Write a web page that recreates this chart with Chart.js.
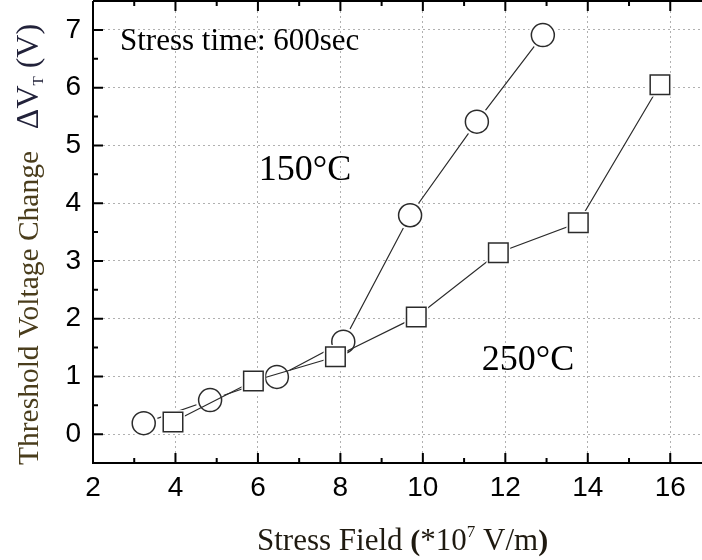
<!DOCTYPE html>
<html>
<head>
<meta charset="utf-8">
<script src="https://cdn.jsdelivr.net/npm/chart.js@4.4.1/dist/chart.umd.min.js"></script>
<style>
  html, body { margin: 0; padding: 0; background: #fff; overflow: hidden; }
</style>
</head>
<body>
<canvas id="chart" width="702" height="560"></canvas>
<script>
// values
const field150 = [3.23, 4.84, 6.46, 8.07, 9.69, 11.31, 12.91];
const shift150 = [0.19, 0.59, 0.99, 1.60, 3.79, 5.41, 6.91];
const field250 = [3.94, 5.89, 7.88, 9.84, 11.83, 13.77, 15.75];
const shift250 = [0.21, 0.92, 1.34, 2.03, 3.14, 3.66, 6.05];

const xTicks = [2, 4, 6, 8, 10, 12, 14, 16];
const yTicks = [0, 1, 2, 3, 4, 5, 6, 7];

const noteText = 'Stress time: 600sec';
const label150 = '150°C';
const label250 = '250°C';

const SERIF = "'Liberation Serif', 'Times New Roman', serif";
const SANS = "'Liberation Sans', Arial, sans-serif";
const INK = '#2b2b2b';

const toPoints = (xs, ys) => xs.map((x, i) => ({ x, y: ys[i] }));

function drawRuns(ctx, runs, x, y) {
  let cx = x;
  runs.forEach((r) => {
    ctx.font = r.font;
    ctx.fillStyle = r.color;
    ctx.fillText(r.text, cx, y + (r.dy || 0));
    cx += ctx.measureText(r.text).width;
  });
}

// inward ticks and axis lines, like the original plot
const frame = {
  id: 'frame',
  afterDraw(chart) {
    const { ctx, chartArea: { left, top, right, bottom }, scales: { x, y } } = chart;
    ctx.save();
    ctx.strokeStyle = '#000';
    ctx.lineWidth = 2;
    ctx.beginPath();
    ctx.moveTo(left, top);
    ctx.lineTo(left, bottom);
    ctx.lineTo(right, bottom);
    ctx.moveTo(left, top);
    ctx.lineTo(right, top);
    ctx.stroke();

    ctx.beginPath();
    for (let v = 2; v <= 16; v += 1) {
      const px = x.getPixelForValue(v);
      const len = v % 2 === 0 ? 10 : 5;
      ctx.moveTo(px, bottom);
      ctx.lineTo(px, bottom - len);
      ctx.moveTo(px, top);
      ctx.lineTo(px, top + len);
    }
    for (let v = 0; v <= 7; v += 0.5) {
      const py = y.getPixelForValue(v);
      const len = Number.isInteger(v) ? 10 : 5;
      ctx.moveTo(left, py);
      ctx.lineTo(left + len, py);
    }
    ctx.stroke();
    ctx.restore();
  },
};

const texts = {
  id: 'texts',
  afterDraw(chart) {
    const { ctx } = chart;
    ctx.save();
    ctx.textBaseline = 'alphabetic';
    ctx.fillStyle = '#000';
    ctx.font = `31px ${SERIF}`;
    ctx.fillText(noteText, 120, 50);

    ctx.font = `36px ${SERIF}`;
    ctx.textAlign = 'center';
    ctx.fillText(label150, 305, 180);
    ctx.fillText(label250, 528, 370);
    ctx.textAlign = 'left';

    // x axis title
    const xRuns = [
      { text: 'Stress Field ', font: `31px ${SERIF}`, color: '#1f1a10' },
      { text: '(', font: `bold 30px ${SERIF}`, color: '#1f1a10' },
      { text: '*10', font: `31px ${SERIF}`, color: '#1f1a10' },
      { text: '7', font: `17px ${SERIF}`, color: '#1f1a10', dy: -13 },
      { text: ' V/m', font: `31px ${SERIF}`, color: '#1f1a10' },
      { text: ')', font: `bold 30px ${SERIF}`, color: '#1f1a10' },
    ];
    drawRuns(ctx, xRuns, 257, 550);

    // y axis title, rotated
    ctx.translate(38, 465);
    ctx.rotate(-Math.PI / 2);
    const yRuns = [
      { text: 'Threshold Voltage Change', font: `29.5px ${SERIF}`, color: '#4a3d1c' },
      { text: '   ', font: `29px ${SERIF}`, color: '#4a3d1c' },
      { text: 'ΔV', font: `32px ${SERIF}`, color: '#22223a' },
      { text: 'T', font: `15px ${SERIF}`, color: '#22223a', dy: 5 },
      { text: ' (V)', font: `32px ${SERIF}`, color: '#22223a' },
    ];
    drawRuns(ctx, yRuns, 0, 0);
    ctx.restore();
  },
};

function series(data, style, radius) {
  return [
    { data, showLine: true, borderColor: INK, borderWidth: 1.2, pointRadius: 0 },
    { data, showLine: false, pointStyle: style, pointRadius: radius + 3,
      pointBackgroundColor: '#fff', pointBorderWidth: 0, pointBorderColor: '#fff' },
    { data, showLine: false, pointStyle: style, pointRadius: radius,
      pointBackgroundColor: '#fff', pointBorderColor: INK, pointBorderWidth: 1.5 },
  ];
}

const circles = series(toPoints(field150, shift150), 'circle', 11.5);
const squares = series(toPoints(field250, shift250), 'rect', 13.8);
const datasets = [...squares.reverse(), ...circles.reverse()];

new Chart(document.getElementById('chart'), {
  type: 'scatter',
  data: { datasets },
  options: {
    animation: false,
    responsive: false,
    devicePixelRatio: 1,
    layout: { autoPadding: false, padding: { top: 1, right: 0, bottom: 0, left: 0 } },
    plugins: { legend: { display: false }, tooltip: { enabled: false } },
    scales: {
      x: {
        type: 'linear',
        min: 2,
        max: 16.77,
        afterBuildTicks: (s) => { s.ticks = xTicks.map((value) => ({ value })); },
        afterFit: (s) => { s.height = 97; s.paddingLeft = 0; s.paddingRight = 0; },
        grid: { color: '#b0b0b0', lineWidth: 1, drawTicks: false },
        border: { display: false, dash: [2, 3] },
        ticks: {
          padding: 8,
          color: '#000',
          font: { family: SANS, size: 28, lineHeight: 1.2 },
          maxRotation: 0,
        },
      },
      y: {
        type: 'linear',
        min: -0.5,
        max: 7.5,
        afterBuildTicks: (s) => { s.ticks = yTicks.map((value) => ({ value })); },
        afterFit: (s) => { s.width = 93; s.paddingTop = 0; s.paddingBottom = 0; },
        grid: { color: '#b0b0b0', lineWidth: 1, drawTicks: false },
        border: { display: false, dash: [2, 3] },
        ticks: {
          padding: 12,
          color: '#000',
          font: { family: SANS, size: 28, lineHeight: 1.2 },
        },
      },
    },
  },
  plugins: [frame, texts],
});
</script>
</body>
</html>
